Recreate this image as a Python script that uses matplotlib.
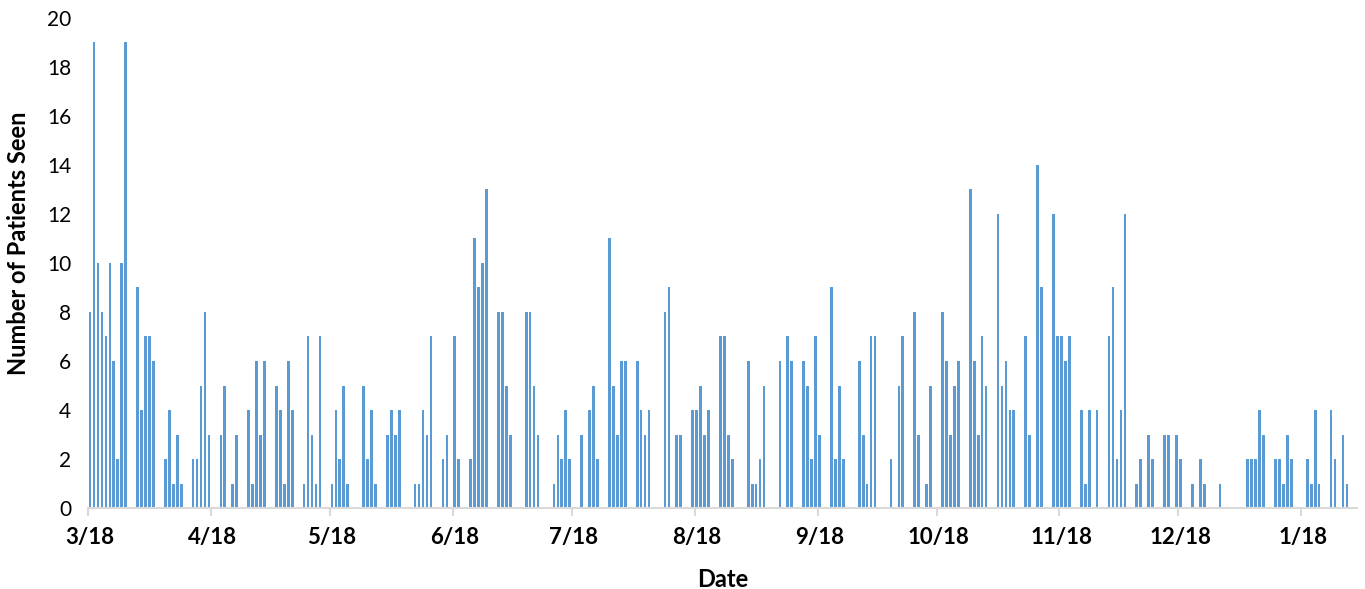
import numpy as np
import pandas as pd
import matplotlib
matplotlib.use("Agg")
import matplotlib.pyplot as plt

plt.rcParams['font.family'] = ['Lato', 'DejaVu Sans']

start = pd.Timestamp('2018-03-01')

# clinic days (days since 3/1/2018) and patients seen on each
day_offset = [
    0, 1, 2, 3, 4, 5, 6, 7, 8, 9, 12, 13, 14, 15, 16, 19, 20, 21, 22, 23,
    26, 27, 28, 29, 30, 33, 34, 36, 37, 40, 41, 42, 43, 44, 47, 48, 49, 50, 51,
    54, 55, 56, 57, 58, 61, 62, 63, 64, 65, 69, 70, 71, 72, 75, 76, 77, 78,
    82, 83, 84, 85, 86, 89, 90, 92, 93, 96, 97, 98, 99, 100, 103, 104, 105,
    106, 110, 111, 112, 113, 117, 118, 119, 120, 121, 124, 126, 127, 128, 131, 132,
    133, 134, 135, 138, 139, 140, 141, 145, 146, 148, 149, 152, 153, 154, 155, 156, 159,
    160, 161, 162, 166, 167, 168, 169, 170, 174, 176, 177, 180, 181, 182, 183, 184,
    187, 188, 189, 190, 194, 195, 196, 197, 198, 202, 204, 205, 208, 209, 211, 212,
    215, 216, 217, 218, 219, 222, 223, 224, 225, 226, 229, 230, 231, 232, 233, 236, 237, 239,
    240, 243, 244, 245, 246, 247, 250, 251, 252, 254, 257, 258, 259, 260, 261, 264, 265,
    267, 268, 271, 272, 274, 275, 278, 280, 281, 285, 292,
    293, 294, 295, 296, 299, 300, 301, 302, 303, 307, 308, 309, 310, 313, 314, 316, 317,
]
patients = [
    8, 19, 10, 8, 7, 10, 6, 2, 10, 19, 9, 4, 7, 7, 6, 2, 4, 1, 3, 1,
    2, 2, 5, 8, 3, 3, 5, 1, 3, 4, 1, 6, 3, 6, 5, 4, 1, 6, 4,
    1, 7, 3, 1, 7, 1, 4, 2, 5, 1, 5, 2, 4, 1, 3, 4, 3, 4,
    1, 1, 4, 3, 7, 2, 3, 7, 2, 2, 11, 9, 10, 13, 8, 8, 5,
    3, 8, 8, 5, 3, 1, 3, 2, 4, 2, 3, 4, 5, 2, 11, 5,
    3, 6, 6, 6, 4, 3, 4, 8, 9, 3, 3, 4, 4, 5, 3, 4, 7,
    7, 3, 2, 6, 1, 1, 2, 5, 6, 7, 6, 6, 5, 2, 7, 3,
    9, 2, 5, 2, 6, 3, 1, 7, 7, 2, 5, 7, 8, 3, 1, 5,
    8, 6, 3, 5, 6, 13, 6, 3, 7, 5, 12, 5, 6, 4, 4, 7, 3, 14,
    9, 12, 7, 7, 6, 7, 4, 1, 4, 4, 7, 9, 2, 4, 12, 1, 2,
    3, 2, 3, 3, 3, 2, 1, 2, 1, 1, 2,
    2, 2, 4, 3, 2, 2, 1, 3, 2, 2, 1, 4, 1, 4, 2, 3, 1,
]

# month starts for the date axis
months = pd.date_range('2018-03-01', '2019-01-01', freq='MS')
month_pos = [(m - start).days for m in months]
month_labels = ['3/18', '4/18', '5/18', '6/18', '7/18', '8/18',
                '9/18', '10/18', '11/18', '12/18', '1/18']

fig = plt.figure(figsize=(13.65, 5.89), dpi=100)
ax = fig.add_axes([0.0645, 0.1375, 0.9295, 0.832])

ax.bar(day_offset, patients, width=0.68, color='#5B9BD5', linewidth=0)

ax.set_xlim(-0.5, 319.5)
ax.set_ylim(0, 20)
ax.set_yticks(np.arange(0, 21, 2))

# tick marks sit between days, labels under the 1st of each month
ax.set_xticks([p - 0.5 for p in month_pos])
ax.set_xticklabels([])
ax.set_xticks(month_pos, minor=True)
ax.set_xticklabels(month_labels, minor=True, fontsize=16, fontweight='bold')
ax.tick_params(axis='x', which='major', length=6, width=1.5, color='#D9D9D9', direction='out')
ax.tick_params(axis='x', which='minor', length=0, pad=14)
ax.tick_params(axis='y', length=0, labelsize=15, pad=12)

for s in ['top', 'right', 'left']:
    ax.spines[s].set_visible(False)
ax.spines['bottom'].set_color('#D9D9D9')
ax.spines['bottom'].set_linewidth(1.5)

ax.set_xlabel('Date', fontsize=17, fontweight='bold')
ax.set_ylabel('Number of Patients Seen', fontsize=17, fontweight='bold')
ax.xaxis.set_label_coords(0.5, -0.122)
ax.yaxis.set_label_coords(-0.046, 0.54)

fig.savefig('out.png', dpi=100)
